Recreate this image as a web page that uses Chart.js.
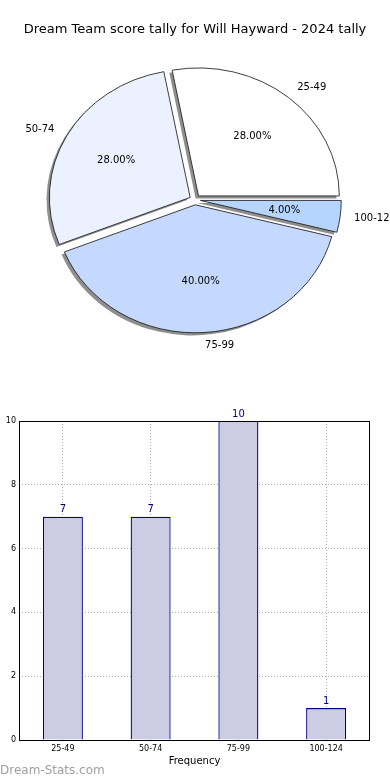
<!DOCTYPE html>
<html>
<head>
<meta charset="utf-8">
<script src="https://cdn.jsdelivr.net/npm/chart.js@4.4.1/dist/chart.umd.min.js"></script>
<style>
    html, body { margin: 0; padding: 0; background: #fff; overflow: hidden; width: 390px; height: 780px; }
    #pieChart { position: absolute; left: 0; top: 0; }
    #barChart { position: absolute; left: -9px; top: 400px; }
</style>
</head>
<body>
<canvas id="pieChart" width="390" height="390"></canvas>
<canvas id="barChart" width="399" height="380"></canvas>
<script>
// datos
const categorias = ['25-49', '50-74', '75-99', '100-124'];
const frecuencias = [7, 7, 10, 1];
const coloresPie = ['#ffffff', '#ebf1fe', '#c5d8fe', '#b5d5fe'];
const yTicks = [0, 2, 4, 6, 8, 10];

const titulo = 'Dream Team score tally for Will Hayward - 2024 tally';
const X_STRETCH = 1.1; // el pastel original es un poco mas ancho que alto
const EXPLODE = 5;     // separacion de cada porcion
const SOMBRA = 2.6;    // desplazamiento de la sombra

Chart.defaults.font.family = "'DejaVu Sans', sans-serif";
Chart.defaults.color = '#000';

document.addEventListener('DOMContentLoaded', function () {
    // pastel: orden inverso y rotacion 90 para imitar el sentido antihorario
    const pieLabels = categorias.slice().reverse();
    const pieValues = frecuencias.slice().reverse();
    const pieColors = coloresPie.slice().reverse();

    function midAngle(p) {
        return (p.startAngle + p.endAngle) / 2;
    }

    const pieExtras = {
        id: 'pieExtras',
        beforeDatasetDraw(chart, args) {
            const ctx = chart.ctx;
            const arcs = args.meta.data;
            const a = arcs[0];
            ctx.save();
            ctx.translate(a.x, a.y);
            ctx.scale(X_STRETCH, 1);
            ctx.translate(-a.x, -a.y);
            // sombras primero
            ctx.fillStyle = '#8f8f8f';
            arcs.forEach(arc => {
                const p = arc.getProps(['x', 'y', 'startAngle', 'endAngle', 'outerRadius'], true);
                const m = midAngle(p);
                const cx = p.x + Math.cos(m) * EXPLODE - SOMBRA;
                const cy = p.y + Math.sin(m) * EXPLODE + SOMBRA;
                ctx.beginPath();
                ctx.moveTo(cx, cy);
                ctx.arc(cx, cy, p.outerRadius, p.startAngle, p.endAngle);
                ctx.closePath();
                ctx.fill();
            });
            // porciones separadas
            arcs.forEach(arc => {
                const p = arc.getProps(['startAngle', 'endAngle'], true);
                const m = midAngle(p);
                ctx.save();
                ctx.translate(Math.cos(m) * EXPLODE, Math.sin(m) * EXPLODE);
                arc.draw(ctx, chart.chartArea);
                ctx.restore();
            });
            ctx.restore();
            return false;
        },
        afterDatasetsDraw(chart) {
            const ctx = chart.ctx;
            const meta = chart.getDatasetMeta(0);
            const total = pieValues.reduce((s, v) => s + v, 0);
            ctx.save();
            ctx.fillStyle = '#000';
            ctx.font = "10px 'DejaVu Sans'";
            ctx.textBaseline = 'middle';
            meta.data.forEach((arc, i) => {
                const p = arc.getProps(['x', 'y', 'startAngle', 'endAngle', 'outerRadius'], true);
                const m = midAngle(p);
                const c = Math.cos(m), s = Math.sin(m);
                const pr = EXPLODE + p.outerRadius * 0.6;
                const lr = EXPLODE + p.outerRadius * 1.1;
                const pct = (pieValues[i] / total * 100).toFixed(2) + '%';
                ctx.textAlign = 'center';
                ctx.fillText(pct, p.x + c * pr * X_STRETCH, p.y + s * pr);
                ctx.textAlign = c > 0 ? 'left' : 'right';
                ctx.fillText(pieLabels[i], p.x + c * lr * X_STRETCH, p.y + s * lr);
            });
            ctx.restore();
        }
    };

    new Chart(document.getElementById('pieChart'), {
        type: 'pie',
        data: {
            labels: pieLabels,
            datasets: [{
                data: pieValues,
                backgroundColor: pieColors,
                borderColor: '#1a1a1a',
                borderWidth: 0.8,
                radius: 128
            }]
        },
        options: {
            responsive: false,
            devicePixelRatio: 1,
            animation: false,
            rotation: 90,
            layout: { padding: { top: 0, bottom: 28, left: 0, right: 0 } },
            plugins: {
                legend: { display: false },
                tooltip: { enabled: false },
                title: {
                    display: true,
                    text: titulo,
                    color: '#000',
                    font: { size: 13, weight: 'normal' },
                    padding: { top: 22, bottom: 0 }
                }
            }
        },
        plugins: [pieExtras]
    });

    // barras
    const barExtras = {
        id: 'barExtras',
        afterDatasetsDraw(chart) {
            const ctx = chart.ctx;
            const meta = chart.getDatasetMeta(0);
            ctx.save();
            ctx.fillStyle = '#000080';
            ctx.font = "10px 'DejaVu Sans'";
            ctx.textAlign = 'center';
            ctx.textBaseline = 'bottom';
            meta.data.forEach((bar, i) => {
                ctx.fillText(String(frecuencias[i]), bar.x, bar.y - 2);
            });
            ctx.restore();
        },
        afterDraw(chart) {
            const ctx = chart.ctx;
            const a = chart.chartArea;
            ctx.save();
            ctx.strokeStyle = '#000';
            ctx.lineWidth = 1;
            ctx.strokeRect(Math.round(a.left) + 0.5, Math.round(a.top) + 0.5,
                Math.round(a.right - a.left) - 1, Math.round(a.bottom - a.top));
            // marca de agua
            ctx.fillStyle = '#a0a0a0';
            ctx.font = "12px 'DejaVu Sans'";
            ctx.textAlign = 'left';
            ctx.textBaseline = 'middle';
            ctx.fillText('Dream-Stats.com', 9, 371);
            ctx.restore();
        }
    };

    new Chart(document.getElementById('barChart'), {
        type: 'bar',
        data: {
            labels: categorias,
            datasets: [{
                data: frecuencias,
                backgroundColor: '#ccccE5',
                borderColor: '#000080',
                borderWidth: 1.3,
                barPercentage: 0.456,
                categoryPercentage: 1
            }]
        },
        options: {
            responsive: false,
            devicePixelRatio: 1,
            animation: false,
            layout: { padding: { top: 21, right: 20, left: 0, bottom: 0 } },
            plugins: {
                legend: { display: false },
                tooltip: { enabled: false }
            },
            scales: {
                x: {
                    z: 1,
                    afterFit: function (scale) { scale.height = 40; },
                    grid: { color: '#b0b0b0', offset: false, drawTicks: false },
                    border: { display: false, dash: [1, 2] },
                    ticks: { font: { size: 8 }, color: '#000', padding: 4, maxRotation: 0 },
                    title: {
                        display: true,
                        text: 'Frequency',
                        color: '#000',
                        font: { size: 10 },
                        padding: { top: 0, bottom: 13 }
                    }
                },
                y: {
                    z: 1,
                    min: 0,
                    max: 10,
                    afterFit: function (scale) { scale.width = 28; },
                    afterBuildTicks: function (scale) {
                        scale.ticks = yTicks.map(v => ({ value: v }));
                    },
                    grid: { color: '#b0b0b0', drawTicks: false },
                    border: { display: false, dash: [1, 2] },
                    ticks: { font: { size: 8 }, color: '#000', padding: 3 },
                    title: {
                        display: true,
                        text: 'Number of Tallies',
                        color: '#000',
                        font: { size: 10 },
                        padding: { top: 0, bottom: 0 }
                    }
                }
            }
        },
        plugins: [barExtras]
    });
});
</script>
</body>
</html>
